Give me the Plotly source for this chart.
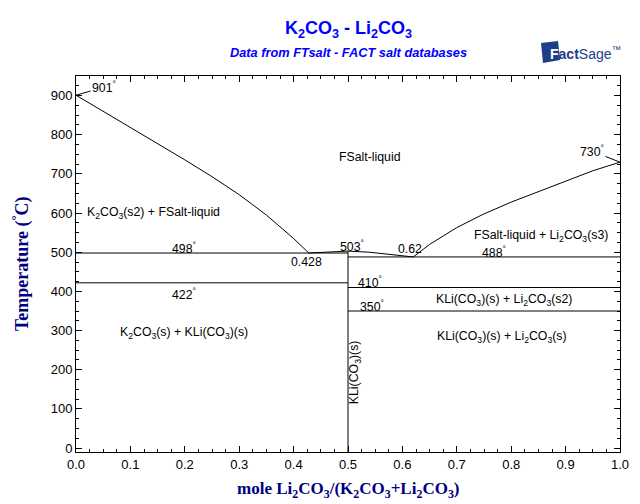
import plotly.graph_objects as go

# ---- data ----
left_liq_x = [0.0, 0.05, 0.1, 0.15, 0.2, 0.25, 0.3, 0.35, 0.38, 0.4, 0.428]
left_liq_T = [901, 860, 819, 778, 736, 693, 647, 595, 560, 535, 498]

mid_liq_x = [0.428, 0.45, 0.475, 0.5, 0.54, 0.58, 0.62]
mid_liq_T = [498, 500, 502, 503, 500, 494, 488]

right_liq_x = [0.62, 0.65, 0.7, 0.75, 0.8, 0.85, 0.9, 0.95, 1.0]
right_liq_T = [488, 520, 563, 598, 628, 655, 683, 708, 730]

inv_T = [498, 422, 488, 410, 350]
inv_x0 = [0.0, 0.0, 0.5, 0.5, 0.5]
inv_x1 = [0.5, 0.5, 1.0, 1.0, 1.0]

compound_x = 0.5
compound_T = [-10, 503]

x_ticks = [0.0, 0.1, 0.2, 0.3, 0.4, 0.5, 0.6, 0.7, 0.8, 0.9, 1.0]
y_ticks = [0, 100, 200, 300, 400, 500, 600, 700, 800, 900]

# labels: (text, x, T, angle)
region_labels = [
    ("FSalt-liquid", 0.540, 743, 0),
    ("K<sub>2</sub>CO<sub>3</sub>(s2) + FSalt-liquid", 0.142, 600, 0),
    ("498<sup>°</sup>", 0.199, 510, 0),
    ("422<sup>°</sup>", 0.199, 393, 0),
    ("0.428", 0.423, 475, 0),
    ("503<sup>°</sup>", 0.507, 515, 0),
    ("0.62", 0.614, 508, 0),
    ("488<sup>°</sup>", 0.768, 500, 0),
    ("FSalt-liquid + Li<sub>2</sub>CO<sub>3</sub>(s3)", 0.855, 541, 0),
    ("410<sup>°</sup>", 0.54, 423, 0),
    ("350<sup>°</sup>", 0.545, 364, 0),
    ("KLi(CO<sub>3</sub>)(s) + Li<sub>2</sub>CO<sub>3</sub>(s2)", 0.787, 378, 0),
    ("KLi(CO<sub>3</sub>)(s) + Li<sub>2</sub>CO<sub>3</sub>(s)", 0.783, 283, 0),
    ("K<sub>2</sub>CO<sub>3</sub>(s) + KLi(CO<sub>3</sub>)(s)", 0.199, 294, 0),
    ("KLi(CO<sub>3</sub>)(s)", 0.513, 194, -90),
]

melting_points = [("901<sup>°</sup>", 0.0, 901, 28, -8), ("730<sup>°</sup>", 1.0, 730, -28, -11)]

fig = go.Figure()
line_style = dict(color="black", width=1)

fig.add_trace(go.Scatter(x=left_liq_x, y=left_liq_T, mode="lines", line=line_style, hoverinfo="skip"))
fig.add_trace(go.Scatter(x=mid_liq_x, y=mid_liq_T, mode="lines", line=line_style, hoverinfo="skip"))
fig.add_trace(go.Scatter(x=right_liq_x, y=right_liq_T, mode="lines", line=line_style, hoverinfo="skip"))
for T, a, b in zip(inv_T, inv_x0, inv_x1):
    fig.add_trace(go.Scatter(x=[a, b], y=[T, T], mode="lines", line=line_style, hoverinfo="skip"))
fig.add_trace(go.Scatter(x=[compound_x, compound_x], y=compound_T, mode="lines", line=line_style, hoverinfo="skip"))

lab_font = dict(family="Liberation Sans, Arial, sans-serif", size=12.3, color="black")
for text, x, T, ang in region_labels:
    fig.add_annotation(x=x, y=T, text=text, showarrow=False, font=lab_font, textangle=ang,
                       xanchor="center", yanchor="middle")
for text, x, T, ax, ay in melting_points:
    fig.add_annotation(x=x, y=T, text=text, showarrow=True, arrowhead=0, arrowwidth=1,
                       arrowcolor="black", ax=ax, ay=ay, font=lab_font, standoff=0)

# titles
fig.add_annotation(xref="paper", yref="paper", x=0.5, y=(452 - 30) / 376,
                   text="<b>K<sub>2</sub>CO<sub>3</sub> - Li<sub>2</sub>CO<sub>3</sub></b>",
                   showarrow=False, yanchor="middle",
                   font=dict(family="Liberation Sans, Arial, sans-serif", size=18, color="#0000ff"))
fig.add_annotation(xref="paper", yref="paper", x=0.5, y=(452 - 53) / 376,
                   text="<b><i>Data from FTsalt - FACT salt databases</i></b>",
                   showarrow=False, yanchor="middle",
                   font=dict(family="Liberation Sans, Arial, sans-serif", size=12.8, color="#0000ff"))
fig.add_annotation(xref="paper", yref="paper", x=(21 - 76) / 544, y=0.5,
                   text="<b>Temperature (<sup>°</sup>C)</b>", textangle=-90,
                   showarrow=False, xanchor="center", yanchor="middle",
                   font=dict(family="Liberation Serif, Times New Roman, serif", size=18, color="#000080"))
fig.add_annotation(xref="paper", yref="paper", x=0.5, y=(452 - 490) / 376,
                   text="<b>mole Li<sub>2</sub>CO<sub>3</sub>/(K<sub>2</sub>CO<sub>3</sub>+Li<sub>2</sub>CO<sub>3</sub>)</b>",
                   showarrow=False, xanchor="center", yanchor="middle",
                   font=dict(family="Liberation Serif, Times New Roman, serif", size=17, color="#000080"))

# FactSage logo
def px(x):
    return (x - 76) / 544
def py(y):
    return (452 - y) / 376
fig.add_shape(type="path", xref="paper", yref="paper",
              path=f"M {px(541)},{py(43)} L {px(558)},{py(41)} L {px(560)},{py(60)} L {px(543)},{py(63)} Z",
              fillcolor="#1c3f86", line=dict(width=0))
fig.add_annotation(xref="paper", yref="paper", x=px(548), y=py(53), xanchor="left", yanchor="middle",
                   text="<b><span style='color:white'>F</span>act</b>Sage<sup>™</sup>", showarrow=False,
                   font=dict(family="Liberation Sans, Arial, sans-serif", size=14, color="#1c3f86"))

tick_font = dict(family="Liberation Sans, Arial, sans-serif", size=13, color="black")
fig.update_xaxes(range=[0, 1], tickvals=x_ticks, tickformat=".1f", ticks="inside", ticklen=6,
                 tickcolor="black", showline=True, linecolor="black", linewidth=1, mirror="ticks",
                 showgrid=False, zeroline=False, tickfont=tick_font,
                 minor=dict(dtick=0.025, ticks="inside", ticklen=3, tickcolor="black", showgrid=False))
fig.update_yaxes(range=[-10, 950], tickvals=y_ticks, ticks="inside", ticklen=6,
                 tickcolor="black", showline=True, linecolor="black", linewidth=1, mirror="ticks",
                 showgrid=False, zeroline=False, tickfont=tick_font,
                 minor=dict(tick0=0, dtick=25, ticks="inside", ticklen=3, tickcolor="black", showgrid=False))

fig.update_layout(width=640, height=504, showlegend=False, plot_bgcolor="white", paper_bgcolor="white",
                  margin=dict(l=76, r=20, t=76, b=52))

fig.write_html("out.html", config={"displayModeBar": False},
               post_script="document.body.style.margin='0px';document.body.style.overflow='hidden';")
